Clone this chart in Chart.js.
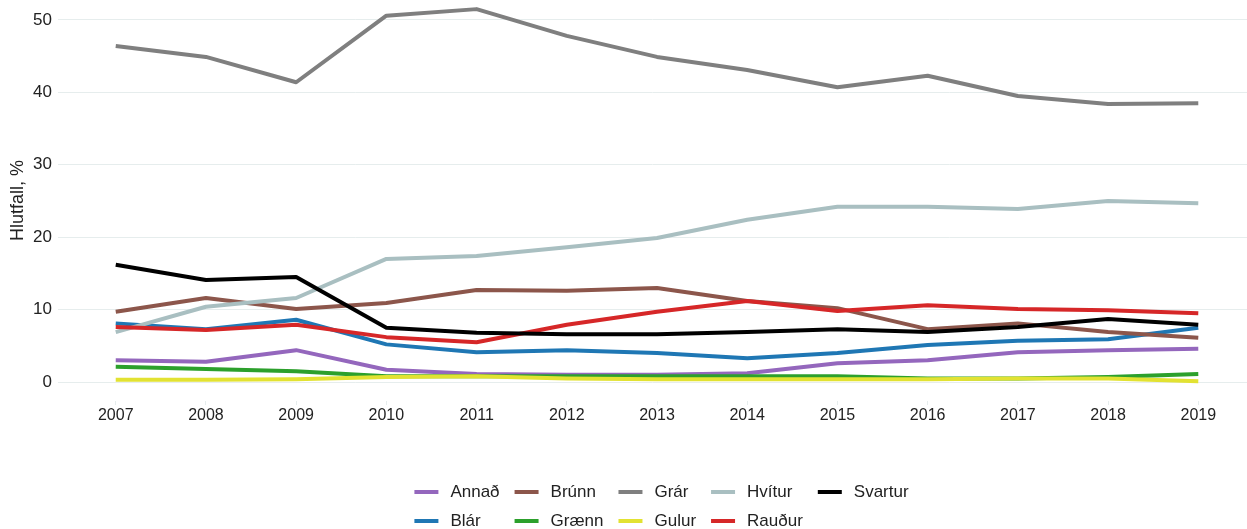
<!DOCTYPE html>
<html>
<head>
<meta charset="utf-8">
<script src="https://cdn.jsdelivr.net/npm/chart.js@4/dist/chart.umd.min.js"></script>
<style>
  html, body { margin: 0; padding: 0; background: #ffffff; }
  #wrap { width: 1247px; height: 529px; position: relative; }
</style>
</head>
<body>
<div id="wrap"><canvas id="c" width="1247" height="529"></canvas></div>
<script>
const years = [2007, 2008, 2009, 2010, 2011, 2012, 2013, 2014, 2015, 2016, 2017, 2018, 2019];
const yTicks = [0, 10, 20, 30, 40, 50];
const yTitle = 'Hlutfall, %';

const seriesNames = ['Annað', 'Blár', 'Brúnn', 'Grænn', 'Grár', 'Gulur', 'Hvítur', 'Rauður', 'Svartur'];

const annad   = [3.0, 2.8, 4.4, 1.7, 1.1, 1.0, 1.0, 1.2, 2.6, 3.0, 4.1, 4.4, 4.6];
const blar    = [8.1, 7.3, 8.6, 5.2, 4.1, 4.4, 4.0, 3.3, 4.0, 5.1, 5.7, 5.9, 7.5];
const brunn   = [9.7, 11.6, 10.1, 10.9, 12.7, 12.6, 13.0, 11.2, 10.2, 7.3, 8.1, 6.9, 6.1];
const graenn  = [2.1, 1.8, 1.5, 0.8, 0.8, 0.8, 0.8, 0.8, 0.8, 0.5, 0.5, 0.7, 1.1];
const grar    = [46.4, 44.9, 41.4, 50.6, 51.5, 47.8, 44.9, 43.1, 40.7, 42.3, 39.5, 38.4, 38.5];
const gulur   = [0.3, 0.3, 0.4, 0.7, 0.8, 0.5, 0.4, 0.4, 0.4, 0.4, 0.5, 0.5, 0.1];
const hvitur  = [6.9, 10.4, 11.6, 17.0, 17.4, 18.6, 19.9, 22.4, 24.2, 24.2, 23.9, 25.0, 24.7];
const raudur  = [7.6, 7.2, 7.9, 6.2, 5.5, 7.9, 9.7, 11.2, 9.8, 10.6, 10.1, 9.9, 9.5];
const svartur = [16.2, 14.1, 14.5, 7.5, 6.8, 6.6, 6.6, 6.9, 7.3, 6.9, 7.6, 8.7, 7.9];

const seriesValues = [annad, blar, brunn, graenn, grar, gulur, hvitur, raudur, svartur];
const seriesColors = ['#9467bd', '#1f77b4', '#8c564b', '#2ca02c', '#7f7f7f', '#e2e232', '#a9bfc1', '#d62728', '#000000'];

// legend layout: two rows, filled column-wise (like the reference)
const legendRows = 2;

const FONT = '"Liberation Sans", Arial, sans-serif';
const TEXT = '#222222';

const datasets = seriesNames.map((name, i) => ({
  label: name,
  data: years.map((y, k) => ({ x: y, y: seriesValues[i][k] })),
  borderColor: seriesColors[i],
  backgroundColor: seriesColors[i],
  borderWidth: 4,
  pointRadius: 0,
  pointHoverRadius: 0,
  tension: 0,
  fill: false,
  borderJoinStyle: 'round',
  borderCapStyle: 'butt',
  order: seriesNames.length - i
}));

const gridLegend = {
  id: 'gridLegend',
  afterDraw(chart) {
    const ctx = chart.ctx;
    const ds = chart.data.datasets;
    const nCols = Math.ceil(ds.length / legendRows);
    const keyLen = 24, keyGap = 12, colGap = 15;
    const fontSize = 17;
    ctx.save();
    ctx.font = fontSize + 'px ' + FONT;
    const colW = [];
    for (let c = 0; c < nCols; c++) {
      let w = 0;
      for (let r = 0; r < legendRows; r++) {
        const idx = c * legendRows + r;
        if (idx < ds.length) w = Math.max(w, ctx.measureText(ds[idx].label).width);
      }
      colW.push(keyLen + keyGap + w);
    }
    const total = colW.reduce((a, b) => a + b, 0) + colGap * (nCols - 1);
    let x0 = (chart.width - total) / 2 + 38;
    const rowY = [492, 521];
    for (let c = 0; c < nCols; c++) {
      for (let r = 0; r < legendRows; r++) {
        const idx = c * legendRows + r;
        if (idx >= ds.length) continue;
        const y = rowY[r];
        ctx.strokeStyle = ds[idx].borderColor;
        ctx.lineWidth = 4;
        ctx.lineCap = 'butt';
        ctx.beginPath();
        ctx.moveTo(x0, y);
        ctx.lineTo(x0 + keyLen, y);
        ctx.stroke();
        ctx.fillStyle = TEXT;
        ctx.textBaseline = 'middle';
        ctx.textAlign = 'left';
        ctx.fillText(ds[idx].label, x0 + keyLen + keyGap, y);
      }
      x0 += colW[c] + colGap;
    }
    ctx.restore();
  }
};

new Chart(document.getElementById('c'), {
  type: 'line',
  data: { datasets },
  plugins: [gridLegend],
  options: {
    responsive: false,
    animation: false,
    events: [],
    layout: { padding: 0 },
    plugins: {
      legend: { display: false },
      tooltip: { enabled: false },
      title: { display: false }
    },
    scales: {
      x: {
        type: 'linear',
        min: 2006.36,
        max: 2019.54,
        afterFit(scale) { scale.height = 128; scale.paddingLeft = 0; scale.paddingRight = 0; },
        afterBuildTicks(scale) { scale.ticks = years.map(v => ({ value: v })); },
        ticks: {
          includeBounds: false,
          stepSize: 1,
          autoSkip: false,
          maxRotation: 0,
          padding: 1,
          color: TEXT,
          font: { family: FONT, size: 16 },
          callback: v => String(v)
        },
        grid: {
          drawOnChartArea: false,
          drawTicks: true,
          tickLength: 4,
          color: '#e6eded'
        },
        border: { display: false }
      },
      y: {
        type: 'linear',
        min: -2.62,
        max: 52.76,
        afterFit(scale) { scale.width = 58; scale.paddingTop = 0; scale.paddingBottom = 0; },
        afterBuildTicks(scale) { scale.ticks = yTicks.map(v => ({ value: v })); },
        ticks: {
          includeBounds: false,
          padding: 6,
          color: TEXT,
          font: { family: FONT, size: 17 },
          callback: v => String(v)
        },
        grid: {
          drawTicks: false,
          color: '#e6eded',
          lineWidth: 1
        },
        border: { display: false },
        title: {
          display: true,
          text: yTitle,
          color: TEXT,
          font: { family: FONT, size: 18 },
          padding: { top: 7, bottom: 0 }
        }
      }
    }
  }
});
</script>
</body>
</html>
